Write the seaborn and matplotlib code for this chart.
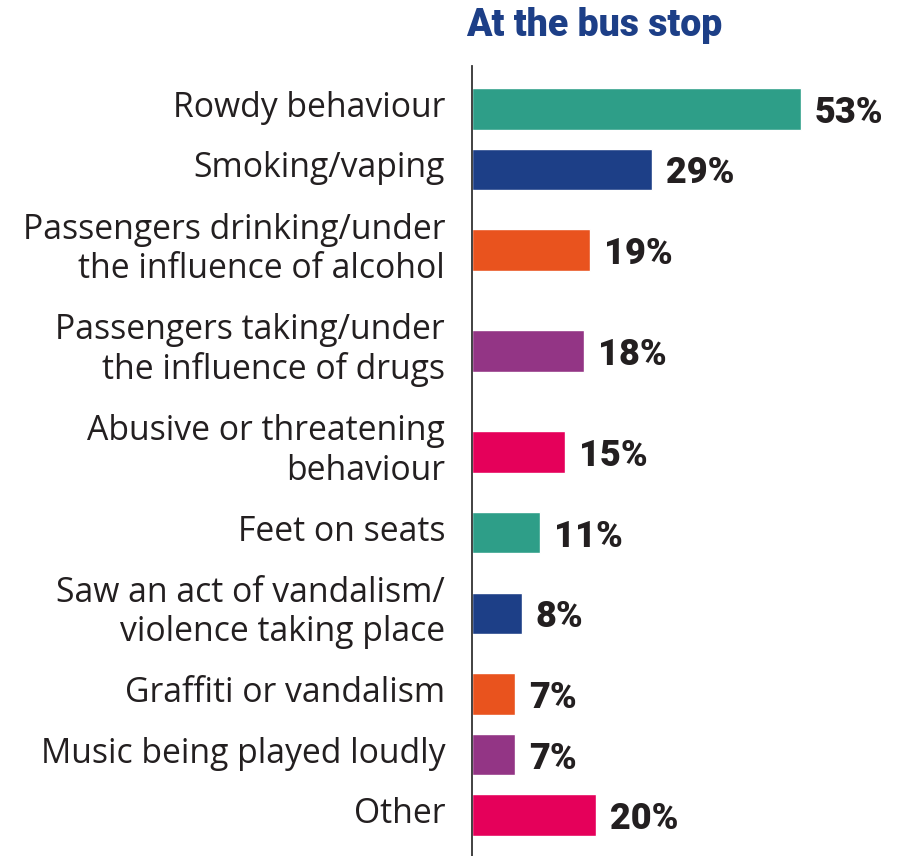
import matplotlib
matplotlib.use("Agg")
import matplotlib.pyplot as plt
import seaborn as sns
import pandas as pd
import numpy as np

categories = [
    "Rowdy behaviour",
    "Smoking/vaping",
    "Passengers drinking/under\nthe influence of alcohol",
    "Passengers taking/under\nthe influence of drugs",
    "Abusive or threatening\nbehaviour",
    "Feet on seats",
    "Saw an act of vandalism/\nviolence taking place",
    "Graffiti or vandalism",
    "Music being played loudly",
    "Other",
]
values = [53, 29, 19, 18, 15, 11, 8, 7, 7, 20]
colors = ["#2e9e88", "#1d3f87", "#e9531e", "#933585", "#e5005a",
          "#2e9e88", "#1d3f87", "#e9531e", "#933585", "#e5005a"]
title = "At the bus stop"

# vertical positions derived from number of label lines
lines = [c.count("\n") + 1 for c in categories]
pos = [0.0]
for a, b in zip(lines[:-1], lines[1:]):
    pos.append(pos[-1] + 20 + 20 * (a + b))

df = pd.DataFrame({"label": categories, "value": values, "pos": pos})

sns.set_theme(style="white")
plt.rcParams["font.family"] = ["Open Sans", "DejaVu Sans"]

W, H = 901, 856
PX = 72 / 100  # points per pixel
fig = plt.figure(figsize=(W / 100, H / 100), dpi=100)
ax = fig.add_axes([472 / W, 0, 1 - 472 / W, 1 - 66 / H])

sns.barplot(data=df, x="value", y="pos", hue="label", palette=colors,
            orient="h", native_scale=True, width=41 / 60, legend=False,
            saturation=1, ax=ax, dodge=False)

ax.set_xlim(0, (W - 472) / 6.2)
ax.set_ylim(pos[-1] + 40.5, pos[0] - 42.5)

for v, p in zip(values, pos):
    ax.annotate(f"{v:.0f}%", xy=(v, p), xycoords="data",
                xytext=(14 * PX, -4 * PX), textcoords="offset points",
                ha="left", va="center", fontsize=26, fontweight=900,
                color="#231f20", family=["Roboto", "DejaVu Sans"])

for c, p in zip(categories, pos):
    ax.annotate(c, xy=(0, p), xycoords=("axes fraction", "data"),
                xytext=(-27 * PX, 1 * PX), textcoords="offset points",
                ha="right", va="center", fontsize=24.3, color="#231f20",
                linespacing=1.2, multialignment="right")

ax.set_yticks([])
ax.set_xticks([])
ax.set_xlabel("")
ax.set_ylabel("")
for s in ["top", "right", "bottom"]:
    ax.spines[s].set_visible(False)
ax.spines["left"].set_color("#333333")
ax.spines["left"].set_linewidth(1.3)

fig.text(466 / W, 1 - 25 / H, title, fontsize=27, fontweight=900,
         color="#1d3f87", ha="left", va="center",
         family=["Roboto", "DejaVu Sans"])

fig.savefig("out.png", dpi=100)
